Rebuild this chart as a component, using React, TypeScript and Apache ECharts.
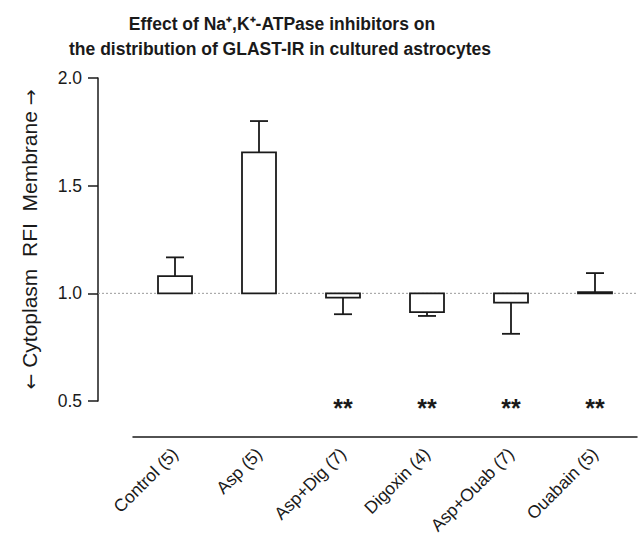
import React, { useEffect, useRef } from "react";
import * as echarts from "echarts";

const categories = ["Control (5)", "Asp (5)", "Asp+Dig (7)", "Digoxin (4)", "Asp+Ouab (7)", "Ouabain (5)"];
const means = [1.08, 1.655, 0.98, 0.913, 0.957, 1.006];
const errors = [0.087, 0.145, 0.077, 0.018, 0.145, 0.088];
const significance = ["", "", "**", "**", "**", "**"];
const yTicks = { min: 0.5, max: 2.0, interval: 0.5 };
const BASELINE = 1.0;
const SIG_LEVEL = 0.5;
const titleLines = ["Effect of Na\u207A,K\u207A-ATPase inhibitors on", "the distribution of GLAST-IR in cultured astrocytes"];
const yName = "{arr|\u2190} Cytoplasm  RFI  Membrane {arr|\u2192}";

const FONT = "'Liberation Sans', Arial, Helvetica, sans-serif";
const INK = "#1a1a1a";

export default function App() {
  const ref = useRef<HTMLDivElement>(null);
  useEffect(() => {
    if (!ref.current) return;
    const chart = echarts.init(ref.current, undefined, { renderer: "svg" });
    const barData = categories.map((_, i) => [i, means[i], errors[i]]);
    const sigData = categories.map((_, i) => [i, SIG_LEVEL]);
    chart.setOption({
      animation: false,
      backgroundColor: "#ffffff",
      graphic: [
        {
          type: "text",
          x: 282,
          y: 24,
          style: { text: titleLines[0], font: `bold 17.5px ${FONT}`, fill: INK, textAlign: "center", textVerticalAlign: "middle" },
        },
        {
          type: "text",
          x: 280,
          y: 49,
          style: { text: titleLines[1], font: `bold 17.5px ${FONT}`, fill: INK, textAlign: "center", textVerticalAlign: "middle" },
        },
      ],
      grid: { left: 133, right: 3, top: 78, bottom: 137, containLabel: false },
      xAxis: {
        type: "category",
        data: categories,
        offset: 36,
        axisLine: { show: true, lineStyle: { color: INK, width: 1.5 } },
        axisTick: { show: false },
        axisLabel: { rotate: 45, margin: 14, fontSize: 17.5, color: INK, fontFamily: FONT, interval: 0 },
        splitLine: { show: false },
      },
      yAxis: {
        type: "value",
        min: yTicks.min,
        max: yTicks.max,
        interval: yTicks.interval,
        offset: 35,
        name: yName,
        nameLocation: "middle",
        nameGap: 58,
        nameTextStyle: {
          fontSize: 21,
          color: INK,
          fontFamily: FONT,
          rich: { arr: { fontSize: 19, color: INK, fontFamily: "'DejaVu Sans', sans-serif" } },
        },
        axisLine: { show: true, lineStyle: { color: INK, width: 1.5 } },
        axisTick: { show: true, length: 10, lineStyle: { color: INK, width: 1.5 } },
        axisLabel: { fontSize: 17.5, color: INK, fontFamily: FONT, margin: 16, formatter: (v: number) => v.toFixed(1) },
        splitLine: { show: false },
      },
      series: [
        {
          type: "custom",
          z: 1,
          data: [[0, BASELINE]],
          clip: false,
          renderItem: (params: any, api: any) => {
            const p = api.coord([0, api.value(1)]);
            const cs = params.coordSys;
            return {
              type: "line",
              shape: { x1: cs.x - 35, y1: p[1], x2: cs.x + cs.width, y2: p[1] },
              style: { stroke: "#9a9a9a", lineWidth: 1, lineDash: [2, 2] },
            };
          },
        },
        {
          type: "custom",
          z: 3,
          data: barData,
          clip: false,
          renderItem: (params: any, api: any) => {
            const i = api.value(0);
            const mean = api.value(1);
            const err = api.value(2);
            const base = api.coord([i, BASELINE]);
            const top = api.coord([i, mean]);
            const end = api.coord([i, mean >= BASELINE ? mean + err : mean - err]);
            const w = 34;
            const cap = 18;
            const x = base[0];
            const y1 = Math.min(base[1], top[1]);
            const h = Math.max(Math.abs(base[1] - top[1]), 1);
            return {
              type: "group",
              children: [
                {
                  type: "line",
                  shape: { x1: x, y1: top[1], x2: x, y2: end[1] },
                  style: { stroke: INK, lineWidth: 1.8 },
                },
                {
                  type: "line",
                  shape: { x1: x - cap / 2, y1: end[1], x2: x + cap / 2, y2: end[1] },
                  style: { stroke: INK, lineWidth: 1.8 },
                },
                {
                  type: "rect",
                  shape: { x: x - w / 2, y: y1, width: w, height: h },
                  style: { fill: "#ffffff", stroke: INK, lineWidth: 1.8 },
                },
              ],
            };
          },
        },
        {
          type: "custom",
          z: 4,
          data: sigData,
          clip: false,
          renderItem: (params: any, api: any) => {
            const i = api.value(0);
            const p = api.coord([i, api.value(1)]);
            return {
              type: "text",
              x: p[0],
              y: p[1] + 7,
              style: {
                text: significance[i],
                font: `bold 25px ${FONT}`,
                fill: INK,
                textAlign: "center",
                textVerticalAlign: "middle",
              },
            };
          },
        },
      ],
    });
    return () => chart.dispose();
  }, []);
  return <div ref={ref} style={{ position: "absolute", left: 0, top: 0, width: 640, height: 538 }} />;
}
